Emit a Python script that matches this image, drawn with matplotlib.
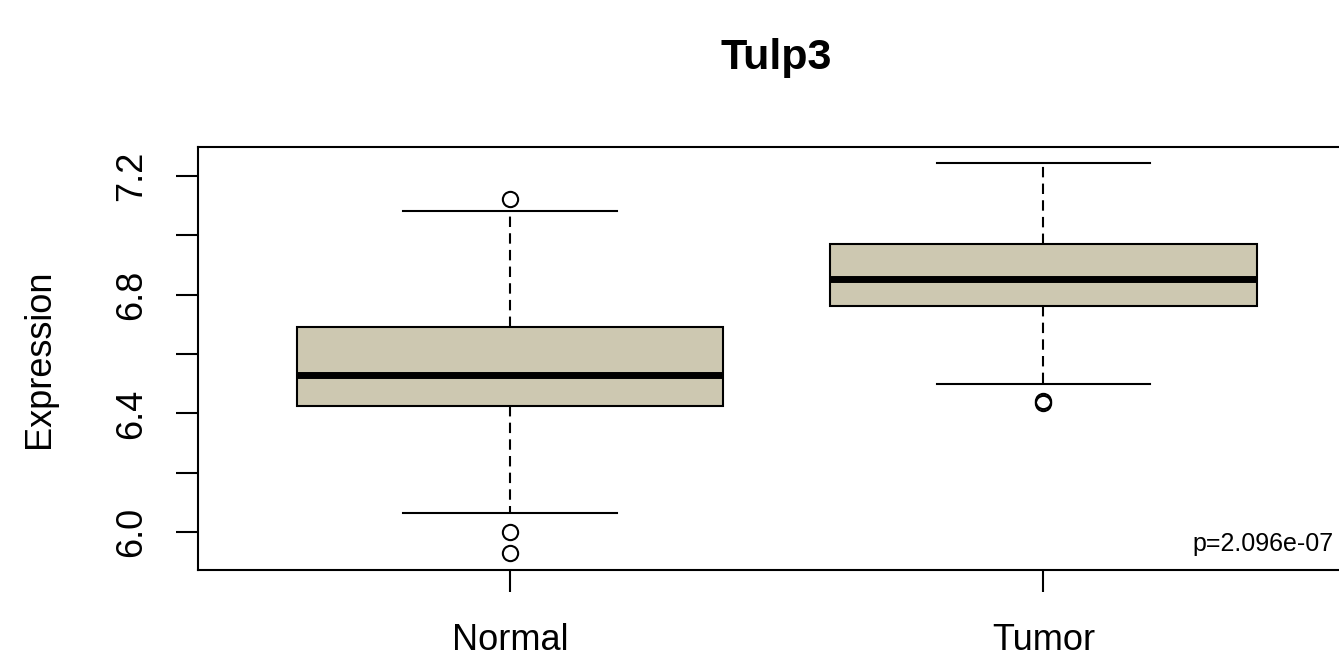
import matplotlib.pyplot as plt

plt.rcParams['font.family'] = ['Liberation Sans', 'DejaVu Sans']

groups = ['Normal', 'Tumor']
q1 = [6.425, 6.762]
med = [6.529, 6.853]
q3 = [6.691, 6.971]
whislo = [6.064, 6.499]
whishi = [7.082, 7.244]
fliers = [[7.122, 6.0, 5.929], [6.436, 6.441]]
p_text = 'p=2.096e-07'

yticks = [6.0, 6.2, 6.4, 6.6, 6.8, 7.0, 7.2]
ylabels = ['6.0', '', '6.4', '', '6.8', '', '7.2']

W, H = 1339, 655
fig = plt.figure(figsize=(W / 100, H / 100), dpi=100)
ax = fig.add_axes([198 / W, 85 / H, 1157.5 / W, 423 / H])

stats = []
for i in range(len(groups)):
    stats.append(dict(label=groups[i], q1=q1[i], med=med[i], q3=q3[i],
                      whislo=whislo[i], whishi=whishi[i], fliers=fliers[i]))

ax.bxp(stats, positions=[1, 2], widths=0.8, patch_artist=True,
       boxprops=dict(facecolor='#CDC8B1', edgecolor='black', linewidth=1.5),
       medianprops=dict(color='black', linewidth=5, solid_capstyle='butt'),
       whiskerprops=dict(color='black', linewidth=1.5, linestyle=(0, (5, 3))),
       capprops=dict(color='black', linewidth=1.5),
       capwidths=0.4,
       flierprops=dict(marker='o', markerfacecolor='none', markeredgecolor='black',
                       markersize=11, markeredgewidth=1.5))

ax.set_xlim(0.415, 2.585)
ax.set_ylim(5.872, 7.298)
ax.set_yticks(yticks)
ax.set_yticklabels(ylabels, rotation=90, va='center')
ax.set_xticks([1, 2])
ax.set_xticklabels(groups)
ax.tick_params(axis='both', length=16, width=1.5, labelsize=26)
ax.tick_params(axis='y', pad=19)
ax.tick_params(axis='x', pad=22)
for s in ax.spines.values():
    s.set_linewidth(1.5)

ax.set_ylabel('Expression', fontsize=26, labelpad=41)
ax.text(2.28, 5.936, p_text, fontsize=18, ha='left', va='baseline')

fig.text(776 / W, 1 - 58 / H, 'Tulp3', fontsize=31, fontweight='bold',
         ha='center', va='center')

fig.savefig('out.png', dpi=100)
